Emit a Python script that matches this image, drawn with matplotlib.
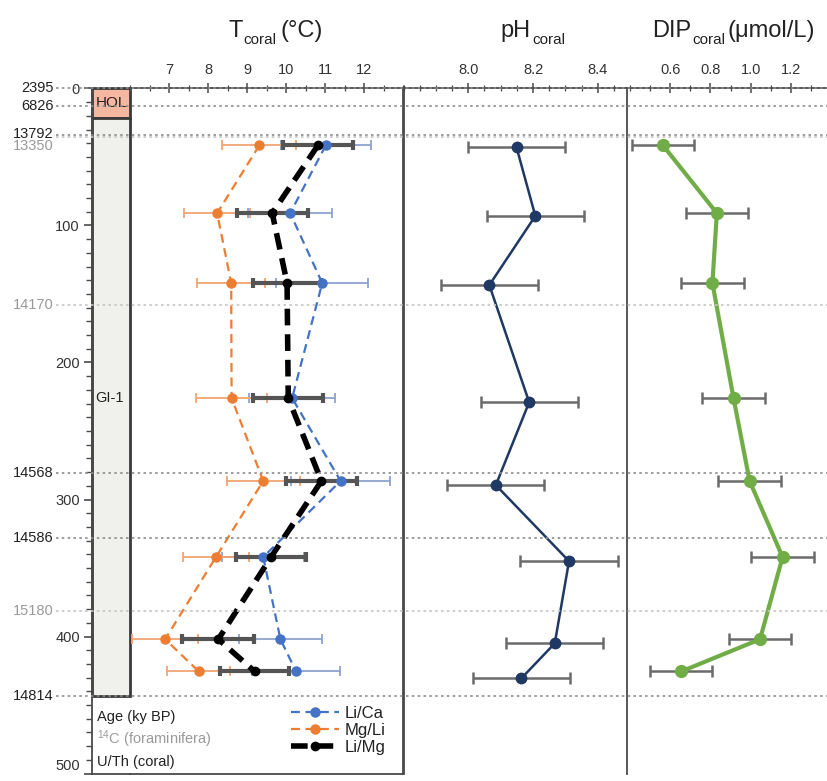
import matplotlib
matplotlib.use('Agg')
import matplotlib.pyplot as plt
from matplotlib.lines import Line2D
from matplotlib.patches import Rectangle
from matplotlib.transforms import blended_transform_factory
from matplotlib.ticker import MultipleLocator, FormatStrFormatter

plt.rcParams['font.family'] = ['Liberation Sans', 'DejaVu Sans']
plt.rcParams['mathtext.fontset'] = 'custom'
plt.rcParams['mathtext.rm'] = 'Liberation Sans'
plt.rcParams['mathtext.it'] = 'Liberation Sans'

# ---------------- data ----------------
depth = [41.5, 91, 142, 226, 286.5, 342, 402, 425.5]
ph_depth = [43, 93, 143.5, 229, 289.5, 345, 405, 430.5]

li_ca = [11.01, 10.10, 10.92, 10.15, 11.39, 9.41, 9.85, 10.25]
li_ca_err = [1.15, 1.07, 1.18, 1.10, 1.27, 1.05, 1.07, 1.12]
mg_li = [9.31, 8.23, 8.59, 8.60, 9.41, 8.20, 6.90, 7.76]
mg_li_err = [0.95, 0.84, 0.87, 0.90, 0.93, 0.85, 0.85, 0.81]
li_mg = [10.81, 9.64, 10.02, 10.05, 10.90, 9.61, 8.26, 9.19]
li_mg_err = [0.89, 0.91, 0.88, 0.90, 0.92, 0.90, 0.92, 0.88]

ph = [8.149, 8.207, 8.065, 8.188, 8.085, 8.311, 8.267, 8.164]
ph_err = [0.15, 0.15, 0.15, 0.15, 0.15, 0.15, 0.15, 0.15]
dip = [0.564, 0.832, 0.810, 0.915, 0.995, 1.159, 1.047, 0.655]
dip_err = [0.155, 0.155, 0.155, 0.155, 0.155, 0.155, 0.155, 0.155]

age_labels = ['2395', '6826', '13792', '13350', '14170', '14568', '14586', '15180', '14814']
age_depths = [0, 12.7, 33.9, 35.7, 157.7, 280.5, 328.1, 381.5, 443.7]
age_kind = ['UTh', 'UTh', 'UTh', 'C14', 'C14', 'UTh', 'UTh', 'C14', 'UTh']

units = ['HOL', 'GI-1']
unit_top = [0, 21.2]
unit_bottom = [21.2, 443.7]

depth_ticks = [0, 100, 200, 300, 400, 500]
t_ticks = [7, 8, 9, 10, 11, 12]
ph_ticks = [8.0, 8.2, 8.4]
dip_ticks = [0.6, 0.8, 1.0, 1.2]

series_names = ['Li/Ca', 'Mg/Li', 'Li/Mg']

# ---------------- layout ----------------
W, H = 828, 781
fig = plt.figure(figsize=(W / 100, H / 100), dpi=100)


def rect(x0, y0, x1, y1):
    return [x0 / W, 1 - y1 / H, (x1 - x0) / W, (y1 - y0) / H]


Y0, Y1 = 88.5, 773.5
ax_s = fig.add_axes(rect(92.5, Y0, 130, Y1))
axT = fig.add_axes(rect(130, Y0, 403.5, Y1))
axP = fig.add_axes(rect(403.5, Y0, 627, Y1))
axD = fig.add_axes(rect(627, Y0, 828, Y1))

SP = '#4a4a4a'
TXT = '#333333'
for ax in (ax_s, axT, axP, axD):
    ax.set_facecolor('none')
    ax.set_ylim(500, 0)
    for s in ax.spines.values():
        s.set_color(SP)
        s.set_linewidth(1.3)

# strat column axis
ax_s.set_xlim(0, 1)
ax_s.spines['top'].set_visible(False)
ax_s.spines['right'].set_visible(False)
ax_s.set_xticks([])
ax_s.set_yticks(depth_ticks)
ax_s.yaxis.set_minor_locator(MultipleLocator(10))
ax_s.tick_params(axis='y', which='major', direction='out', length=6, width=1.2,
                 color=SP, labelsize=10.5, labelcolor=TXT, pad=3)
ax_s.tick_params(axis='y', which='minor', direction='out', length=4, width=1.0, color=SP)
for lbl in ax_s.get_yticklabels():
    if lbl.get_text() == '500':
        lbl.set_va('bottom')
fills = ['#f4b8a0', '#f0f0ec']
for name, t, b, fc in zip(units, unit_top, unit_bottom, fills):
    ax_s.add_patch(Rectangle((0, t), 1, b - t, facecolor=fc, edgecolor='#3a3a3a',
                             lw=2, clip_on=False, zorder=2))
    ax_s.text(0.5 if name == 'HOL' else 0.08, (t + b) / 2 if name == 'HOL' else 226,
              name, ha='center' if name == 'HOL' else 'left', va='center',
              fontsize=11 if name == 'HOL' else 10.5, color='#222', zorder=3)

# T axis
axT.set_xlim(6, 13)
axT.spines['left'].set_visible(False)
axT.set_yticks([])
axT.xaxis.tick_top()
axT.set_xticks(t_ticks)
axT.xaxis.set_minor_locator(MultipleLocator(0.5))

axP.set_xlim(7.8, 8.49)
axP.spines['right'].set_visible(False)
axP.spines['bottom'].set_visible(False)
axP.set_yticks([])
axP.xaxis.tick_top()
axP.set_xticks(ph_ticks)
axP.xaxis.set_major_formatter(FormatStrFormatter('%.1f'))
axP.xaxis.set_minor_locator(MultipleLocator(0.05))

axD.set_xlim(0.385, 1.385)
axD.spines['right'].set_visible(False)
axD.spines['bottom'].set_visible(False)
axD.set_yticks([])
axD.xaxis.tick_top()
axD.set_xticks(dip_ticks)
axD.xaxis.set_major_formatter(FormatStrFormatter('%.1f'))
axD.xaxis.set_minor_locator(MultipleLocator(0.1))

for ax in (axT, axP, axD):
    ax.tick_params(axis='x', which='major', direction='inout', length=7, width=1.1,
                   color=SP, labelsize=10.5, labelcolor=TXT, pad=5)
    ax.tick_params(axis='x', which='minor', direction='inout', length=4, width=0.9, color=SP)

# age reference lines
tr = blended_transform_factory(fig.transFigure, axT.transData)
for lab, d, k in zip(age_labels, age_depths, age_kind):
    col = '#8c8c8c' if k == 'UTh' else '#c4c4c4'
    tcol = '#222222' if k == 'UTh' else '#9a9a9a'
    fig.add_artist(Line2D([56 / W, 1], [d, d], transform=tr, color=col, lw=1.2,
                          ls=(0, (1.5, 2.0)), zorder=1.5))
    va = 'center'
    dd = d
    if lab == '13350':
        va = 'top'
        dd = d + 1.2
    elif lab == '13792':
        dd = d - 1.0
    fig.text(54 / W, dd, lab, transform=tr, ha='right', va=va, fontsize=10.5, color=tcol)

# T series
axT.errorbar(li_ca, depth, xerr=li_ca_err, fmt='none', ecolor='#8ea2cf', elinewidth=1.3,
             capsize=3.5, capthick=1.3, zorder=3)
axT.errorbar(mg_li, depth, xerr=mg_li_err, fmt='none', ecolor='#f0a473', elinewidth=1.3,
             capsize=3.5, capthick=1.3, zorder=3)
axT.errorbar(li_mg, depth, xerr=li_mg_err, fmt='none', ecolor='#555555', elinewidth=3,
             capsize=3.8, capthick=3, zorder=4)
axT.plot(mg_li, depth, color='#ed7d31', lw=1.6, ls=(0, (4, 2.5)), marker='o', ms=6.5, zorder=5)
axT.plot(li_ca, depth, color='#4472c4', lw=1.6, ls=(0, (4, 2.5)), marker='o', ms=6.5, zorder=5)
axT.plot(li_mg, depth, color='black', lw=4, ls=(0, (3.0, 1.6)), marker='o', ms=6, zorder=6)

# pH
axP.errorbar(ph, ph_depth, xerr=ph_err, fmt='none', ecolor='#6b6b6b', elinewidth=1.8,
             capsize=4, capthick=1.8, zorder=3)
axP.plot(ph, ph_depth, color='#1f3864', lw=1.8, marker='o', ms=7.5, zorder=5)

# DIP
axD.errorbar(dip, depth, xerr=dip_err, fmt='none', ecolor='#6b6b6b', elinewidth=1.8,
             capsize=4, capthick=1.8, zorder=3)
axD.plot(dip, depth, color='#70ad47', lw=3, marker='o', ms=8.5, zorder=5)

# titles
def title_piece(x, y, s, size):
    fig.text(x / W, 1 - y / H, s, ha='left', va='baseline', fontsize=size, color='#222')

title_piece(229, 37, 'T', 17)
title_piece(243.5, 44, 'coral', 11)
title_piece(281, 37, '(°C)', 17)
title_piece(500, 37, 'pH', 17)
title_piece(532, 44, 'coral', 11)
title_piece(652, 37, 'DIP', 17)
title_piece(692.5, 44, 'coral', 11)
title_piece(728, 37, '(μmol/L)', 17)

# left legend texts
fig.text(97 / W, 1 - 717 / H, 'Age (ky BP)', ha='left', va='center', fontsize=10.5, color='#222')
fig.text(97 / W, 1 - 739 / H, r'$^{14}$C (foraminifera)', ha='left', va='center',
         fontsize=10.5, color='#9a9a9a')
fig.text(97 / W, 1 - 762 / H, 'U/Th (coral)', ha='left', va='center', fontsize=10.5, color='#222')

handles = [
    Line2D([], [], color='#4472c4', lw=1.6, ls=(0, (4, 2.5)), marker='o', ms=6.5),
    Line2D([], [], color='#ed7d31', lw=1.6, ls=(0, (4, 2.5)), marker='o', ms=6.5),
    Line2D([], [], color='black', lw=4, ls=(0, (3.0, 1.6)), marker='o', ms=6),
]
leg = fig.legend(handles, series_names, loc='upper left',
                 bbox_to_anchor=(291 / W, 1 - 706 / H), frameon=False, fontsize=12,
                 handlelength=2.9, handletextpad=0.3, labelspacing=0.12, borderpad=0,
                 borderaxespad=0, numpoints=1)
for t in leg.get_texts():
    t.set_color('#222')

fig.savefig('out.png', dpi=100)
